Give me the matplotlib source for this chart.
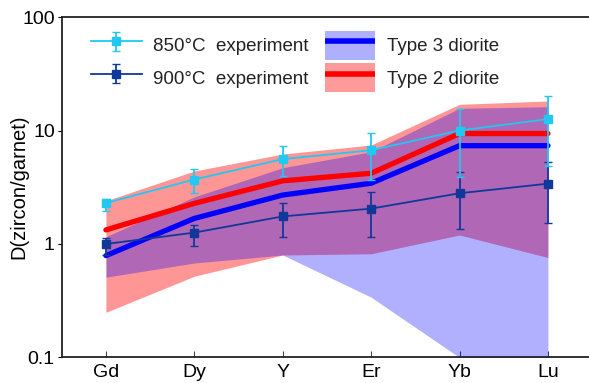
import matplotlib
matplotlib.use("Agg")
import matplotlib.pyplot as plt
from matplotlib.patches import Patch
from matplotlib.lines import Line2D
from matplotlib.legend_handler import HandlerTuple
import numpy as np

plt.rcParams['font.family'] = ['Liberation Sans', 'DejaVu Sans']

elements = ['Gd', 'Dy', 'Y', 'Er', 'Yb', 'Lu']

exp850 = [2.3, 3.7, 5.6, 6.7, 10.0, 12.6]
exp850_lo = [1.95, 2.8, 4.0, 3.7, 3.9, 4.9]
exp850_hi = [2.5, 4.55, 7.3, 9.6, 15.5, 20.3]

exp900 = [1.0, 1.26, 1.75, 2.05, 2.8, 3.4]
exp900_lo = [0.8, 0.96, 1.16, 1.16, 1.35, 1.54]
exp900_hi = [1.12, 1.47, 2.3, 2.9, 4.3, 5.3]

type2_med = [1.33, 2.28, 3.6, 4.2, 9.4, 9.4]
type2_lo = [0.25, 0.52, 0.8, 0.82, 1.2, 0.76]
type2_hi = [2.4, 4.4, 6.2, 7.45, 17.0, 18.2]

type3_med = [0.79, 1.68, 2.7, 3.43, 7.35, 7.35]
type3_lo = [0.51, 0.68, 0.8, 0.34, 0.1, 0.1]
type3_hi = [1.16, 2.6, 4.7, 6.5, 15.7, 16.2]

yticks = [0.1, 1, 10, 100]
ytick_labels = ['0.1', '1', '10', '100']

x = np.arange(len(elements))

fig = plt.figure(figsize=(5.89, 3.83), dpi=100)
ax = fig.add_axes([0.1048, 0.0666, 0.9005, 0.889])

ax.fill_between(x, type2_lo, type2_hi, color='#FF0000', alpha=0.41, linewidth=0, zorder=1)
ax.fill_between(x, type3_lo, type3_hi, color='#0000FF', alpha=0.31, linewidth=0, zorder=2)

ax.plot(x, type2_med, color='#FF0000', lw=3.8, zorder=3, solid_capstyle='round')
ax.plot(x, type3_med, color='#0000FF', lw=3.8, zorder=4, solid_capstyle='round')

c850 = '#20C8F2'
c900 = '#10389A'
e850 = ax.errorbar(x, exp850,
                   yerr=[np.array(exp850) - np.array(exp850_lo), np.array(exp850_hi) - np.array(exp850)],
                   color=c850, lw=1.3, marker='s', ms=6, capsize=3, elinewidth=1.3, zorder=6)
e900 = ax.errorbar(x, exp900,
                   yerr=[np.array(exp900) - np.array(exp900_lo), np.array(exp900_hi) - np.array(exp900)],
                   color=c900, lw=1.3, marker='s', ms=6, capsize=3, elinewidth=1.3, zorder=5)

ax.set_yscale('log')
ax.set_ylim(0.1, 100)
ax.set_xlim(-0.5, 5.5)
ax.set_yticks(yticks)
ax.set_yticklabels(ytick_labels)
ax.yaxis.set_minor_locator(matplotlib.ticker.NullLocator())
ax.set_xticks(x)
ax.set_xticklabels(elements)
ax.tick_params(axis='x', direction='in', length=4, labelsize=14, pad=5, color='#444444')
ax.tick_params(axis='y', direction='out', length=3, labelsize=14, pad=2)
ax.set_ylabel('D(zircon/garnet)', fontsize=14.5)
ax.yaxis.set_label_coords(-0.063, 0.5)

for s in ['left', 'bottom', 'top']:
    ax.spines[s].set_linewidth(1.3)
    ax.spines[s].set_color('#222222')
ax.spines['right'].set_visible(False)

h3 = (Patch(facecolor='#AFAFFF', edgecolor='none'),
      Line2D([], [], color='#0000FF', lw=4, solid_capstyle='butt'))
h2 = (Patch(facecolor='#FF9A9A', edgecolor='none'),
      Line2D([], [], color='#FF0000', lw=4, solid_capstyle='butt'))

leg = ax.legend([e850, e900, h3, h2],
                ['850°C  experiment', '900°C  experiment', 'Type 3 diorite', 'Type 2 diorite'],
                handler_map={tuple: HandlerTuple(ndivide=1, pad=0)},
                ncol=2, frameon=False, fontsize=13.5,
                loc='upper left', bbox_to_anchor=(0.041, 0.98),
                handlelength=2.7, handleheight=1.95, handletextpad=0.6,
                columnspacing=0.88, labelspacing=0.2, borderaxespad=0.0)
for t in leg.get_texts():
    t.set_color('#222222')

fig.savefig('out.png', dpi=100)
